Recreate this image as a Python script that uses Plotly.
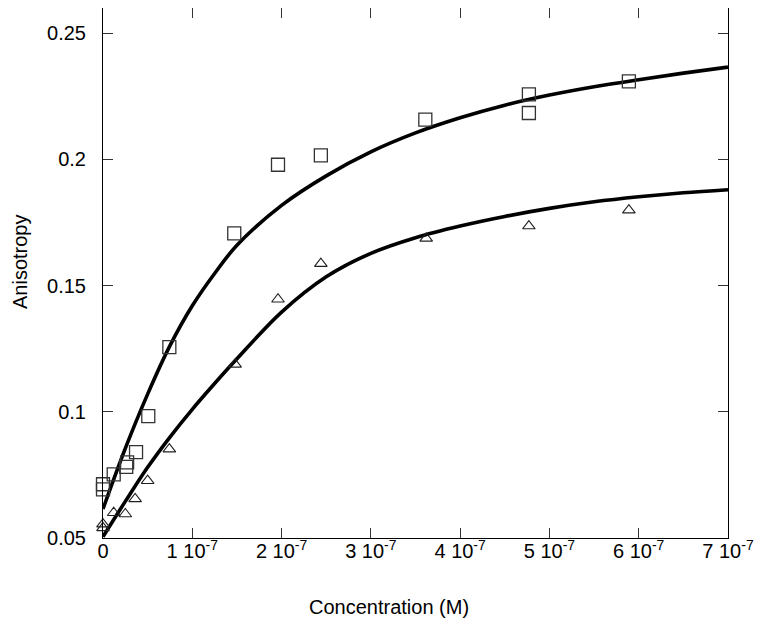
import plotly.graph_objects as go

# Measured data (concentration in M)
sq_x = [0, 0, 1.2e-8, 2.6e-8, 2.7e-8, 3.7e-8, 5.07e-8, 7.43e-8, 1.47e-7, 1.96e-7, 2.44e-7, 3.61e-7, 4.77e-7, 4.77e-7, 5.89e-7]
sq_y = [0.0713, 0.0693, 0.0752, 0.0782, 0.0800, 0.0840, 0.0983, 0.1256, 0.1707, 0.1979, 0.2016, 0.2158, 0.2258, 0.2184, 0.2309]

tri_x = [0, 0, 1.2e-8, 2.5e-8, 3.6e-8, 5.0e-8, 7.43e-8, 1.48e-7, 1.96e-7, 2.44e-7, 3.62e-7, 4.77e-7, 5.89e-7]
tri_y = [0.0555, 0.0540, 0.0600, 0.0595, 0.0655, 0.0727, 0.0852, 0.1188, 0.1446, 0.1587, 0.1687, 0.1736, 0.1799]

# Fitted curves
fit_x = [0, 0.25e-7, 0.5e-7, 0.75e-7, 1.0e-7, 1.25e-7, 1.5e-7, 2.0e-7, 2.5e-7, 3.0e-7, 3.5e-7,
         4.0e-7, 4.5e-7, 5.0e-7, 5.5e-7, 6.0e-7, 6.5e-7, 7.0e-7]
fit1_y = [0.0615, 0.0855, 0.1070, 0.1262, 0.1420, 0.1548, 0.1660, 0.1818, 0.1935, 0.2030, 0.2105,
          0.2165, 0.2215, 0.2255, 0.2288, 0.2316, 0.2342, 0.2366]
fit2_y = [0.0505, 0.0645, 0.0780, 0.0900, 0.1010, 0.1112, 0.1210, 0.1395, 0.1535, 0.1628, 0.1690,
          0.1736, 0.1774, 0.1806, 0.1832, 0.1852, 0.1868, 0.1880]

x_ticks = [0, 1e-7, 2e-7, 3e-7, 4e-7, 5e-7, 6e-7, 7e-7]
x_tick_text = ["0", "1 10<sup>-7</sup>", "2 10<sup>-7</sup>", "3 10<sup>-7</sup>", "4 10<sup>-7</sup>",
               "5 10<sup>-7</sup>", "6 10<sup>-7</sup>", "7 10<sup>-7</sup>"]
y_ticks = [0.05, 0.1, 0.15, 0.2, 0.25]
y_tick_text = ["0.05", "0.1", "0.15", "0.2", "0.25"]

FONT = "Liberation Sans, Arial, sans-serif"

fig = go.Figure()
for fy in (fit1_y, fit2_y):
    fig.add_trace(go.Scatter(x=fit_x, y=fy, mode="lines",
                             line=dict(color="black", width=3.6, shape="spline", smoothing=1.0),
                             hoverinfo="skip", showlegend=False))
fig.add_trace(go.Scatter(x=sq_x, y=sq_y, mode="markers", cliponaxis=False,
                         marker=dict(symbol="square-open", size=13, color="#333333", line=dict(width=1.3, color="#333333")),
                         showlegend=False))
fig.add_trace(go.Scatter(x=tri_x, y=tri_y, mode="markers", cliponaxis=False,
                         marker=dict(symbol="triangle-up-open", size=11, color="#222222", line=dict(width=1.1, color="#222222")),
                         showlegend=False))

# page body adds an 8px offset; figure sized so the plot box lands at x 103-728, y 8-538
fig.update_layout(
    width=754, height=619,
    margin=dict(l=95, r=34, t=0, b=89, autoexpand=False),
    paper_bgcolor="white", plot_bgcolor="white",
    font=dict(family=FONT, size=20, color="black"),
    showlegend=False,
    xaxis=dict(range=[0, 7e-7], tickvals=x_ticks, ticktext=x_tick_text, automargin=False,
               showline=True, linecolor="black", linewidth=1, mirror="ticks",
               ticks="inside", ticklen=10, tickcolor="#333333", tickwidth=1,
               showgrid=False, zeroline=False, ticklabelstandoff=-5,
               tickfont=dict(family=FONT, size=20, color="black")),
    yaxis=dict(range=[0.05, 0.26], tickvals=y_ticks, ticktext=y_tick_text, automargin=False,
               showline=True, linecolor="black", linewidth=1, mirror="ticks",
               ticks="inside", ticklen=10, tickcolor="#333333", tickwidth=1,
               showgrid=False, zeroline=False, ticklabelstandoff=12,
               tickfont=dict(family=FONT, size=20, color="black")),
    annotations=[
        dict(text="Concentration (M)", xref="paper", yref="paper", x=(389 - 103) / 625, y=-(607 - 538) / 530,
             xanchor="center", yanchor="middle", showarrow=False, font=dict(family=FONT, size=20, color="black")),
        dict(text="Anisotropy", xref="paper", yref="paper", x=-(103 - 20) / 625, y=(538 - 262) / 530,
             xanchor="center", yanchor="middle", textangle=-90, showarrow=False,
             font=dict(family=FONT, size=20, color="black")),
    ],
)

fig.write_html("out.html")
